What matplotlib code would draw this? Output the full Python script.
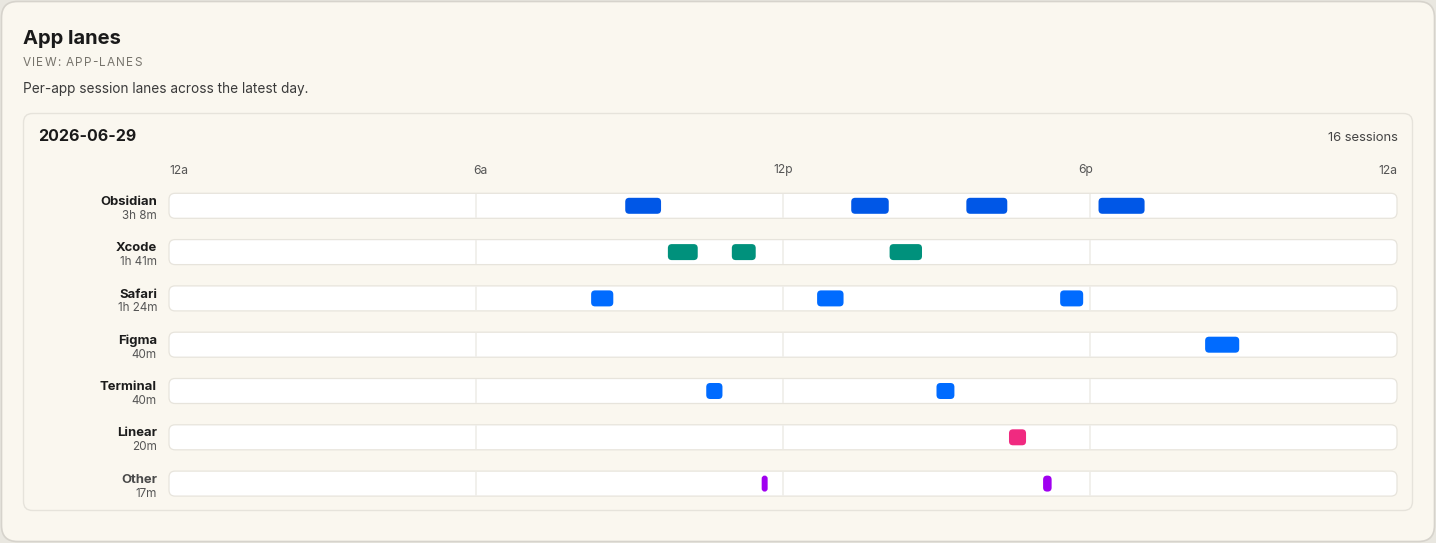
import matplotlib
matplotlib.use('Agg')
import matplotlib.pyplot as plt
from matplotlib.patches import FancyBboxPatch
from matplotlib.transforms import blended_transform_factory

plt.rcParams['font.family'] = ['Inter', 'DejaVu Sans']

# --- data ---
apps = ['Obsidian', 'Xcode', 'Safari', 'Figma', 'Terminal', 'Linear', 'Other']
totals = ['3h 8m', '1h 41m', '1h 24m', '40m', '40m', '20m', '17m']
app_colors = ['#0057e7', '#00917c', '#006bff', '#006bff', '#006bff', '#f02a80', '#a000f0']

session_starts = {
    'Obsidian': ['08:55', '13:20', '15:35', '18:10'],
    'Xcode': ['09:45', '11:00', '14:05'],
    'Safari': ['08:15', '12:40', '17:25'],
    'Figma': ['20:15'],
    'Terminal': ['10:30', '15:00'],
    'Linear': ['16:25'],
    'Other': ['11:35', '17:05'],
}
session_minutes = {
    'Obsidian': [42, 44, 48, 54],
    'Xcode': [35, 28, 38],
    'Safari': [26, 31, 27],
    'Figma': [40],
    'Terminal': [19, 21],
    'Linear': [20],
    'Other': [7, 10],
}
tick_labels = ['12a', '6a', '12p', '6p', '12a']
grid_hours = [6, 12, 18]
day = '2026-06-29'

W, H = 1436, 543
fig = plt.figure(figsize=(W / 100, H / 100), dpi=100, facecolor='#e9e7e0')

# background axes in pixel units
bg = fig.add_axes([0, 0, 1, 1])
bg.set_xlim(0, W)
bg.set_ylim(H, 0)
bg.axis('off')

bg.add_patch(FancyBboxPatch((1.5, 1.5), W - 3, H - 3,
                            boxstyle='round,pad=0,rounding_size=16',
                            fc='#faf7ef', ec='#d6d3cc', lw=1.2))
bg.add_patch(FancyBboxPatch((23.5, 113.5), 1389, 397,
                            boxstyle='round,pad=0,rounding_size=9',
                            fc='#faf7ef', ec='#e6e3db', lw=1.0))

renderer = fig.canvas.get_renderer()


def text_width(t):
    bb = t.get_window_extent(renderer=renderer)
    return bb.width


bg.text(23, 44, 'App lanes', fontsize=14.5, fontweight='bold', color='#1a1a1a', va='baseline')

# letter-spaced caption
x = 23
for ch in 'VIEW: APP-LANES':
    t = bg.text(x, 65.5, ch, fontsize=8.5, color='#77746c', va='baseline')
    x += text_width(t) + 1.1

bg.text(23, 92.5, 'Per-app session lanes across the latest day.', fontsize=9.8,
        color='#3a3a3a', va='baseline')
bg.text(38, 141, day, fontsize=11.5, fontweight='bold', color='#1a1a1a', va='baseline')
n_sessions = sum(len(v) for v in session_starts.values())
bg.text(1398, 141, f'{n_sessions} sessions', fontsize=9.4, color='#444444',
        va='baseline', ha='right')

# lane geometry
lane_left, lane_right = 169, 1397
row_px = 46.3
first_center = 205.8
lane_h_px, bar_h_px = 25, 16

# hour tick labels, spread like a space-between row
tks = [bg.text(0, 173.5, s, fontsize=8.7, color='#555555', va='baseline') for s in tick_labels]
widths = [text_width(t) for t in tks]
gap = (lane_right - lane_left - sum(widths)) / (len(tks) - 1)
x = lane_left
for t, w in zip(tks, widths):
    t.set_x(x)
    x += w + gap

# lanes axes (hours on x, rows on y)
top_px = first_center - row_px / 2
bot_px = first_center + (len(apps) - 0.5) * row_px
ax = fig.add_axes([lane_left / W, 1 - bot_px / H, (lane_right - lane_left) / W, (bot_px - top_px) / H])
ax.set_xlim(0, 24)
ax.set_ylim(len(apps) - 0.5, -0.5)
ax.axis('off')

hpp = 24 / (lane_right - lane_left)          # hours per pixel
ypp = 1 / row_px                              # rows per pixel
asp = ypp / hpp
lane_h = lane_h_px * ypp
bar_h = bar_h_px * ypp

lbl_tr = blended_transform_factory(bg.transData, ax.transData)


def to_hours(s):
    hh, mm = s.split(':')
    return int(hh) + int(mm) / 60


for i, app in enumerate(apps):
    ax.add_patch(FancyBboxPatch((0, i - lane_h / 2), 24, lane_h,
                                boxstyle=f'round,pad=0,rounding_size={6 * hpp}',
                                mutation_aspect=asp, fc='white', ec='#e7e4dc',
                                lw=0.9, clip_on=False, zorder=1))
    ax.vlines(grid_hours, i - lane_h / 2 + 0.5 * ypp, i + lane_h / 2 - 0.5 * ypp,
              color='#efede9', lw=1.2, zorder=2)
    for s, m in zip(session_starts[app], session_minutes[app]):
        x0 = to_hours(s)
        w = m / 60
        r = min(4 * hpp, w / 2)
        ax.add_patch(FancyBboxPatch((x0, i - bar_h / 2), w, bar_h,
                                    boxstyle=f'round,pad=0,rounding_size={r}',
                                    mutation_aspect=asp, fc=app_colors[i], ec='none',
                                    clip_on=False, zorder=3))
    name_color = '#4a4a4a' if app == 'Other' else '#1c1c1c'
    bg.text(157, i - 0.8 * ypp, app, transform=lbl_tr, fontsize=9.4, fontweight='bold',
            color=name_color, ha='right', va='baseline')
    bg.text(157, i + 13 * ypp, totals[i], transform=lbl_tr, fontsize=8.4,
            color='#555555', ha='right', va='baseline')

fig.savefig('out.png', dpi=100, facecolor=fig.get_facecolor())
